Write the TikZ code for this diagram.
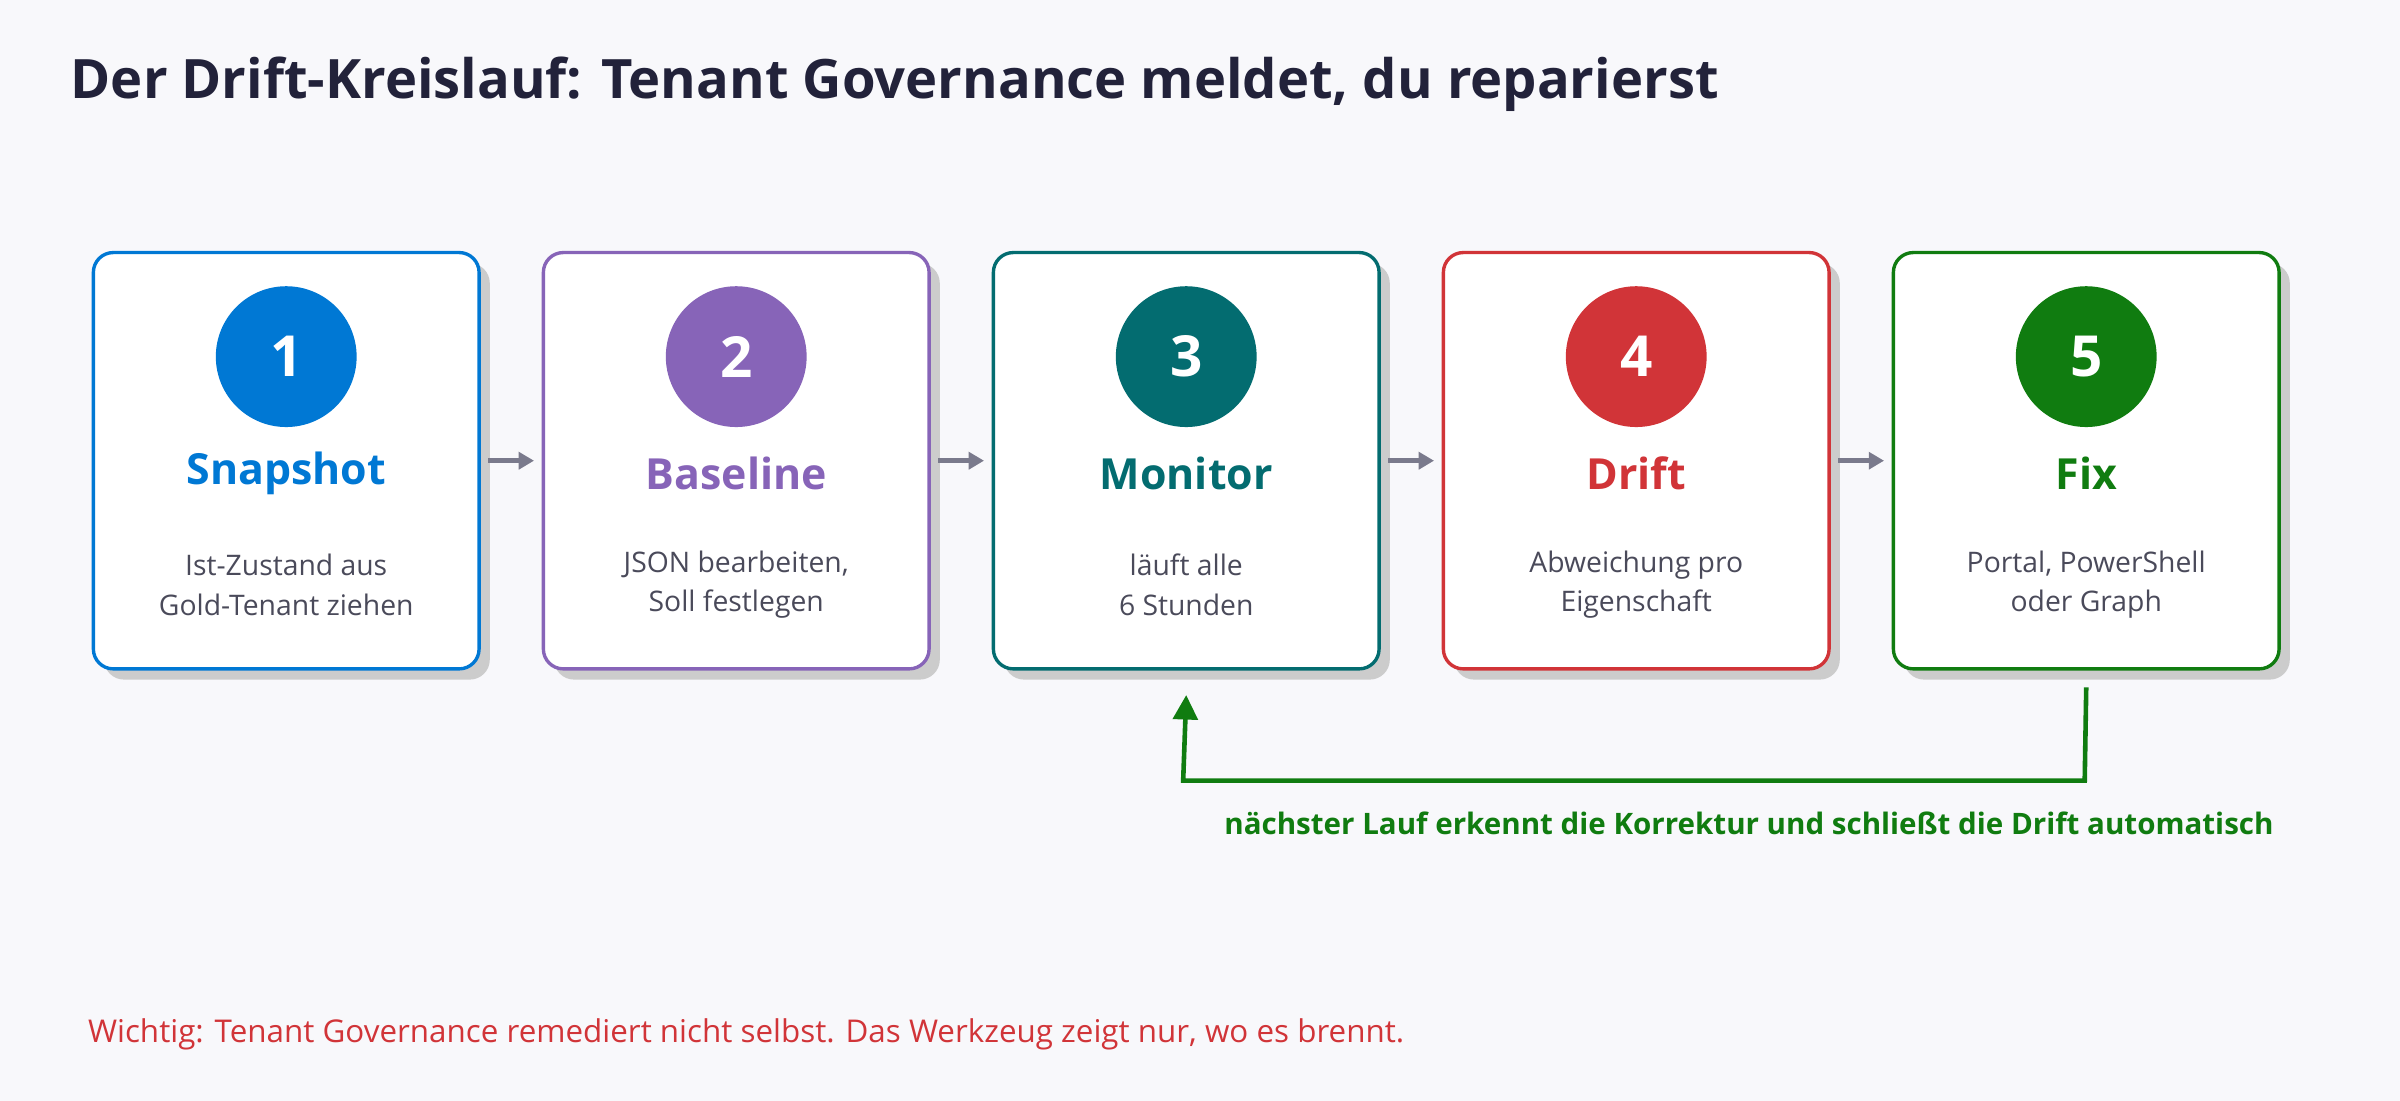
\documentclass[tikz,border=0pt]{standalone}
\usepackage{fontspec}
\setmainfont{Open Sans}
\usetikzlibrary{arrows.meta}
\definecolor{c1}{HTML}{0078D4}
\definecolor{c2}{HTML}{8764B8}
\definecolor{c3}{HTML}{036C70}
\definecolor{c4}{HTML}{D13438}
\definecolor{c5}{HTML}{107C10}
\definecolor{bg}{HTML}{F8F8FB}
\definecolor{txt}{HTML}{4A4A5A}
\definecolor{ttl}{HTML}{22223A}
\definecolor{arr}{HTML}{7A7A8C}
\begin{document}
\begin{tikzpicture}[x=1pt,y=-1pt,
  box/.style={draw=#1,line width=2.2pt,fill=white,rounded corners=13pt,minimum width=252pt,minimum height=272pt},
  shad/.style={fill=black!20,rounded corners=13pt,minimum width=252pt,minimum height=272pt},
  num/.style={circle,fill=#1,minimum size=92pt,text=white,font=\bfseries\fontsize{37}{37}\selectfont},
  head/.style={text=#1,font=\bfseries\fontsize{28}{28}\selectfont},
  desc/.style={text=txt,align=center,font=\fontsize{18.5}{26}\selectfont},
  steparr/.style={-{Triangle[length=10pt,width=11pt]},arr,line width=3pt}]
\fill[bg] (0,0) rectangle (1568,719);
\useasboundingbox (0,0) rectangle (1568,719);
\node[anchor=west,inner sep=0pt,text=ttl,font=\bfseries\fontsize{35.5}{36}\selectfont] (title) at (46,55) {Der Drift-Kreislauf: Tenant Governance meldet, du reparierst};
\foreach \i/\c/\h/\d in {1/c1/Snapshot/{Ist-Zustand aus\\Gold-Tenant ziehen},2/c2/Baseline/{JSON bearbeiten,\\Soll festlegen},3/c3/Monitor/{läuft alle\\6 Stunden},4/c4/Drift/{Abweichung pro\\Eigenschaft},5/c5/Fix/{Portal, PowerShell\\oder Graph}}{
  \pgfmathsetmacro{\xx}{187+294*(\i-1)}
  \node[shad] at (\xx+7,308) {};
  \node[box=\c] (b\i) at (\xx,301) {};
  \node[num=\c] (n\i) at (\xx,233) {\i};
  \node[head=\c] (h\i) at (\xx,309) {\h};
  \node[desc] (d\i) at (\xx,382) {\d};
}
\foreach \a/\b in {1/2,2/3,3/4,4/5}{\draw[steparr] ([xshift=5pt]b\a.east) -- ([xshift=-5pt]b\b.west);}
\coordinate (fb1) at (1362,510);
\coordinate (fb2) at (773,510);
\draw[c5,line width=3pt,-{Triangle[length=16pt,width=16pt]}] ([yshift=-11pt]b5.south) -- (fb1) -- (fb2) -- ([yshift=-16pt]b3.south);
\node[anchor=east,text=c5,font=\bfseries\fontsize{19.3}{19}\selectfont] (fl) at (1489,538) {nächster Lauf erkennt die Korrektur und schließt die Drift automatisch};
\node[anchor=west,text=c4,font=\fontsize{20.5}{20}\selectfont] (note) at (54,676) {Wichtig: Tenant Governance remediert nicht selbst. Das Werkzeug zeigt nur, wo es brennt.};
\end{tikzpicture}
\end{document}
